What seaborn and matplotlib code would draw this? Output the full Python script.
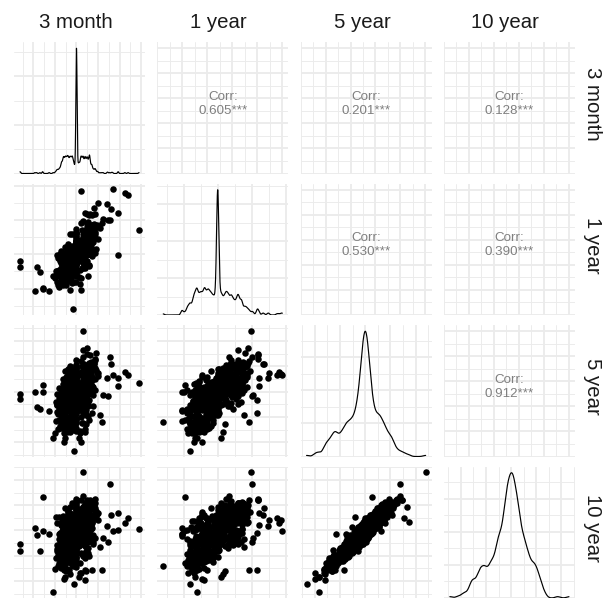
import matplotlib
matplotlib.use("Agg")
import matplotlib.pyplot as plt
from matplotlib.ticker import MultipleLocator, MaxNLocator, AutoMinorLocator
import pandas as pd
import seaborn as sns

labels = ["3 month", "1 year", "5 year", "10 year"]
# correlations shown in the upper panels, row by row
corr_values = [0.605, 0.201, 0.128, 0.530, 0.390, 0.912]

m3_out = [-2.62, -2.60, 2.90, 0.31, -1.57, 1.54, 0.23, 1.67, 2.24, 2.39,
          1.42, 1.62, 1.93, 0.62, 0.85, 1.46, 1.93, -1.85, -1.70, -1.93,
          -1.57, -1.27, -0.16, -1.00, -0.54, 0.15, 1.08, 0.28, -0.10, -1.08,
          0.38, -0.31, 0.46, 1.16, 0.70, 1.23, 0.60, -0.93, -0.40, -0.30,
          0.20, -0.50, 0.10, 0.50, 0.80, 1.00, 0.40, 0.90, 0.50, 0.30,
          -0.20, -0.50, 0.20, -0.60, 0.10, -0.20]
y1_out = [-0.20, -0.38, 0.72, 0.98, -0.97, 1.02, 1.87, 1.90, 1.80, 1.74,
          1.47, 1.32, 1.22, 1.17, 1.17, 1.02, -0.03, -0.38, -0.53, -1.06,
          -1.00, -1.06, -1.60, -0.68, -0.68, -0.87, 0.78, 0.32, -0.82, -0.62,
          -0.40, 0.15, 0.22, 0.92, 1.15, 1.05, 1.15, -0.50, -0.78, -1.04,
          -1.05, -0.90, -0.65, 1.18, 1.35, 1.50, 1.20, 0.80, 0.90, 0.60,
          -0.82, -0.72, -0.70, -0.45, 0.10, -0.60]
y5_out = [-0.10, -0.30, 0.35, 2.40, 0.27, 1.37, 0.70, 0.64, 0.79, 0.65,
          0.55, 1.08, 0.55, 1.45, 1.28, -0.19, 0.21, -0.59, -0.68, 0.00,
          0.00, -0.76, -1.19, -1.65, -1.85, -1.65, -0.92, 1.37, -2.33, -1.84,
          -1.61, -1.61, -1.30, -1.21, -0.85, -0.12, -0.32, -0.40, -0.53, -1.16,
          -0.72, 0.08, 0.35, 1.48, 1.11, 0.75, 0.24, 1.53, 1.73, 1.64,
          -1.29, -1.43, -1.99, -1.99, -1.85, -1.21]
y10_out = [-0.55, -0.80, 0.04, 2.30, 1.33, 1.85, 0.40, -0.02, 0.30, 0.50,
           0.19, 0.63, 0.71, 1.20, 1.25, -0.44, 0.00, -0.16, -0.80, 0.08,
           -0.04, -0.13, -1.41, -1.51, -1.83, -1.69, -0.64, 1.36, -2.13, -2.44,
           -1.97, -1.71, -1.60, -1.57, -1.57, -0.30, -0.10, 0.55, 0.13, -0.15,
           -0.20, 0.00, 0.10, 1.20, 0.90, 0.40, 0.20, 0.49, 0.32, 0.93,
           -0.77, -1.11, -1.68, -1.91, -1.84, -1.20]

# ---- central mass of observations ----
y5_core = [
    0.03, -0.12, 0.18, -0.04, 0.09, -0.21, 0.14, -0.08, 0.22, -0.16,
    -0.02, 0.11, -0.19, 0.06, -0.10, 0.24, -0.06, 0.15, -0.24, 0.01,
    0.07, -0.15, 0.20, -0.01, 0.12, -0.23, 0.04, -0.11, 0.17, -0.07,
    -0.18, 0.02, -0.09, 0.23, -0.13, 0.10, -0.03, 0.19, -0.20, 0.05,
    0.13, -0.05, 0.01, -0.22, 0.16, -0.14, 0.25, -0.01, 0.08, -0.17,
    -0.10, 0.05, -0.25, 0.18, -0.06, 0.12, -0.17, 0.00, 0.21, -0.03,
    0.00, 0.09, -0.13, 0.15, -0.20, 0.04, -0.08, 0.24, -0.15, 0.11,
    0.19, -0.04, 0.06, -0.18, 0.02, -0.11, 0.16, -0.24, 0.10, -0.01,
    -0.07, 0.14, -0.16, 0.08, -0.23, 0.20, -0.02, 0.03, -0.12, 0.17,
    0.05, -0.09, 0.22, -0.14, 0.01, -0.19, 0.12, -0.05, 0.07, -0.22,
    0.28, -0.31, 0.35, -0.38, 0.42, -0.45, 0.50, -0.52, 0.58, -0.61,
    0.65, -0.68, 0.30, -0.27, 0.37, -0.34, 0.47, -0.41, 0.55, -0.57,
    0.33, -0.29, 0.40, -0.43, 0.48, -0.49, 0.53, -0.55, 0.62, -0.66,
    0.69, -0.63, 0.26, -0.36, 0.44, -0.40, 0.51, -0.47, 0.60, -0.70,
    0.27, -0.25, 0.39, -0.32, 0.46, -0.53, 0.56, -0.59, 0.67, -0.44,
    0.31, -0.35, 0.43, -0.37, 0.54, -0.64, 0.59, -0.50, 0.36, -0.46,
    0.41, -0.42, 0.63, -0.60, 0.29, -0.28, 0.52, -0.67, 0.45, -0.33,
    0.72, -0.74, 0.78, -0.81, 0.85, -0.88, 0.92, -0.95, 1.00, -1.03,
    1.06, -1.09, 1.12, -1.15, 0.75, -0.78, 0.83, -0.86, 0.97, -0.99,
    -1.20, -1.25, -1.31, -1.36, -1.42, -1.48, 1.18, 1.24, -1.12, -1.18,
    0.71, -0.73, 0.89, -0.92, 1.04, -1.06, -1.22, -1.28, -1.38, -1.55,
    -0.76, -0.84, -0.97, -1.01, 0.79, 0.94, 1.08, -1.13, -1.33, -1.62,
    0.38, -0.39, 0.57, -0.58, 0.77, -0.79, 0.95, -0.98, 0.21, -0.26,
    0.16, -0.19, 0.47, -0.51, 0.66, -0.69, 0.87, -0.90, 1.02, -1.11,
    0.34, -0.36, 0.49, -0.56, 0.73, -0.75, 0.82, -0.96, 0.13, -0.10,
    0.24, -0.21, 0.61, -0.62, 0.80, -0.83, 1.05, -1.17, 0.44, -0.48,
    -0.06, 0.04, -0.30, 0.32, -0.52, 0.54, -0.71, 0.74, -0.91, 0.93,
    -1.40, -1.45, -1.52, -1.58, -1.35, 1.15, 1.21, 1.27, 0.98, 1.10,
    -1.26, -1.19, -1.08, -0.93, -0.81, 0.86, 1.01, 0.90, -1.46, -1.50,
    0.58, -0.46, 0.40, -0.30, 0.20, -0.12, 0.08, -0.05, 0.30, -0.40]
y10_core = [
    0.12, -0.02, 0.05, -0.19, 0.21, -0.11, 0.30, -0.22, 0.08, -0.28,
    0.09, 0.20, -0.08, -0.07, -0.25, 0.14, 0.04, 0.27, -0.15, -0.12,
    -0.06, -0.26, 0.28, 0.10, 0.03, -0.14, 0.16, 0.01, 0.11, -0.18,
    -0.09, -0.10, 0.02, 0.19, -0.31, 0.24, 0.07, 0.09, -0.27, 0.17,
    0.25, 0.06, -0.04, -0.30, 0.07, -0.04, 0.22, -0.14, 0.19, -0.08,
    -0.20, -0.05, -0.21, 0.26, 0.03, 0.01, -0.24, 0.14, 0.13, -0.07,
    0.02, 0.18, -0.03, 0.04, -0.13, -0.09, -0.16, 0.31, -0.29, 0.06,
    0.10, 0.08, 0.15, -0.06, -0.14, -0.19, 0.23, -0.18, -0.02, 0.13,
    0.05, 0.02, -0.17, 0.22, -0.20, 0.29, -0.10, -0.01, 0.00, 0.20,
    -0.08, -0.15, 0.17, -0.02, 0.06, -0.32, 0.05, 0.11, 0.23, -0.10,
    0.35, -0.20, 0.24, -0.45, 0.51, -0.36, 0.38, -0.60, 0.64, -0.48,
    0.55, -0.72, 0.18, -0.33, 0.44, -0.26, 0.36, -0.52, 0.41, -0.63,
    0.27, -0.39, 0.47, -0.32, 0.38, -0.57, 0.61, -0.45, 0.70, -0.56,
    0.75, -0.54, 0.30, -0.42, 0.33, -0.44, 0.56, -0.38, 0.52, -0.78,
    0.16, -0.29, 0.50, -0.24, 0.54, -0.49, 0.47, -0.68, 0.58, -0.34,
    0.42, -0.30, 0.35, -0.48, 0.62, -0.59, 0.49, -0.42, 0.28, -0.53,
    0.31, -0.50, 0.52, -0.66, 0.22, -0.19, 0.44, -0.61, 0.49, -0.40,
    0.65, -0.80, 0.84, -0.70, 0.76, -0.97, 0.88, -0.86, 1.06, -0.95,
    1.10, -1.00, 1.02, -1.21, 0.81, -0.66, 0.72, -0.94, 0.85, -1.05,
    -1.12, -1.33, -1.19, -1.42, -1.30, -1.39, 1.09, 1.16, -1.24, -1.06,
    0.80, -0.63, 0.95, -0.83, 0.93, -1.15, -1.05, -1.20, -1.47, -1.45,
    -0.86, -0.76, -1.08, -0.90, 0.70, 1.01, 0.98, -1.27, -1.25, -1.55,
    0.46, -0.27, 0.50, -0.69, 0.86, -0.71, 0.90, -1.09, 0.33, -0.15,
    0.04, -0.25, 0.37, -0.58, 0.72, -0.59, 0.78, -0.99, 0.92, -1.02,
    0.22, -0.46, 0.58, -0.44, 0.67, -0.83, 0.89, -0.88, 0.27, -0.21,
    0.12, -0.33, 0.68, -0.52, 0.75, -0.92, 1.12, -1.08, 0.40, -0.55,
    -0.15, 0.16, -0.23, 0.41, -0.43, 0.60, -0.81, 0.65, -0.82, 1.00,
    -1.28, -1.50, -1.36, -1.52, -1.10, 1.02, 1.21, 1.08, 0.80, 0.97,
    -1.02, -1.30, -1.18, -1.00, -0.72, 0.95, 0.87, 0.78, -1.58, -1.30,
    0.66, -0.39, 0.29, -0.37, 0.26, -0.05, 0.00, -0.10, 0.36, -0.47]
y1_core = [
    0.00, 0.00, 0.08, -0.02, 0.00, -0.14, 0.00, 0.01, 0.17, 0.00,
    0.03, 0.00, -0.09, 0.00, 0.00, 0.12, -0.01, 0.00, -0.18, 0.00,
    -0.05, 0.00, 0.00, 0.21, 0.00, -0.23, 0.00, 0.00, 0.00, 0.06,
    0.00, 0.14, 0.00, 0.00, -0.11, 0.00, -0.26, 0.28, 0.00, 0.00,
    0.00, 0.00, 0.00, -0.07, 0.33, 0.00, 0.00, 0.10, -0.31, 0.00,
    0.02, -0.12, 0.00, 0.00, 0.00, 0.24, 0.00, -0.35, 0.00, 0.00,
    0.00, 0.00, 0.16, -0.04, 0.00, 0.38, 0.00, 0.00, -0.20, 0.00,
    0.00, -0.30, 0.00, 0.00, 0.07, 0.00, 0.00, -0.15, 0.42, 0.00,
    0.00, 0.00, -0.40, 0.00, 0.00, 0.00, 0.19, 0.00, 0.00, -0.06,
    0.00, 0.09, 0.00, 0.00, -0.45, 0.00, 0.00, 0.00, 0.25, -0.38,
    0.10, -0.22, 0.30, 0.00, 0.18, -0.35, 0.44, -0.12, 0.00, -0.50,
    0.52, -0.28, -0.15, 0.12, 0.00, -0.48, 0.25, -0.30, 0.60, 0.00,
    0.00, 0.00, -0.20, -0.42, 0.35, 0.00, 0.00, -0.58, 0.28, -0.20,
    0.38, -0.62, 0.22, 0.00, -0.10, -0.25, 0.00, 0.15, 0.72, -0.40,
    0.46, -0.05, 0.00, -0.33, 0.55, -0.15, 0.00, 0.00, 0.00, -0.66,
    -0.28, 0.25, 0.62, -0.55, 0.00, -0.45, 0.32, 0.00, 0.00, 0.30,
    0.00, -0.18, 0.20, -0.35, 0.00, 0.00, 0.50, -0.70, -0.35, 0.05,
    0.55, -0.45, 0.25, -0.65, 0.70, -0.30, 0.45, -0.75, 0.80, -0.55,
    0.62, -0.85, 0.90, -0.40, 0.00, 0.00, 0.58, -0.20, 0.35, -0.68,
    -0.60, -0.82, -0.35, -0.70, -0.50, -0.90, 0.75, 0.40, -0.15, -0.48,
    0.10, -0.10, 0.00, 0.00, 0.25, -0.25, -0.30, -0.55, -0.75, -0.62,
    -0.80, 0.05, -0.55, -0.20, 0.65, 0.15, 0.50, -0.95, -0.40, -0.75,
    0.40, -0.50, -0.30, 0.30, 0.20, -0.60, 0.65, -0.35, 0.55, -0.45,
    -0.60, 0.60, 0.80, -0.80, -0.45, 0.45, 0.15, -0.10, 0.60, -0.35,
    0.70, -0.72, 0.05, 0.35, 0.85, -0.15, -0.20, -0.62, 0.48, -0.52,
    -0.32, 0.22, 0.45, -0.40, 0.95, -0.90, 0.70, -0.60, -0.55, 0.60,
    0.50, -0.50, -0.65, 0.65, 0.10, -0.05, -0.25, 0.30, -0.05, 0.20,
    -0.65, -0.40, -0.85, -0.55, -0.20, 0.65, 0.92, 0.60, 0.80, 0.35,
    -0.15, -0.72, -0.88, -0.30, -0.62, 0.25, 0.85, 0.05, -0.30, -0.70,
    -0.45, 0.40, -0.55, 0.55, -0.52, 0.58, -0.68, 0.70, -0.70, 0.68]
m3_core = [
    0.00, -0.06, 0.00, 0.00, 0.01, 0.00, 0.07, 0.00, 0.00, -0.11,
    0.00, 0.00, 0.00, 0.04, -0.03, 0.00, 0.00, 0.12, 0.00, 0.00,
    0.02, 0.00, -0.09, 0.15, 0.00, 0.00, -0.02, 0.00, 0.05, 0.00,
    0.00, 0.00, -0.14, 0.00, 0.00, 0.00, -0.17, 0.00, -0.04, 0.00,
    0.19, 0.00, 0.00, -0.08, 0.00, 0.00, 0.10, 0.00, 0.00, 0.00,
    0.00, 0.00, 0.23, 0.00, -0.01, 0.00, 0.00, -0.22, 0.00, 0.06,
    -0.05, 0.00, 0.00, 0.00, 0.00, 0.26, 0.00, 0.00, 0.00, -0.28,
    0.00, -0.18, 0.03, 0.00, 0.00, 0.08, 0.00, 0.00, 0.31, 0.00,
    0.00, 0.01, -0.25, 0.00, 0.00, -0.12, 0.00, 0.00, 0.14, 0.00,
    0.00, 0.00, 0.00, -0.02, -0.33, 0.00, 0.00, 0.00, 0.00, -0.20,
    0.00, -0.15, 0.21, 0.00, 0.00, -0.30, 0.36, 0.00, 0.00, -0.44,
    0.47, 0.00, 0.00, 0.09, 0.00, -0.38, 0.00, -0.20, 0.53, 0.00,
    -0.12, 0.24, 0.00, -0.27, 0.29, 0.00, -0.10, -0.52, 0.00, 0.00,
    0.00, -0.58, 0.18, 0.00, 0.00, 0.00, 0.41, 0.00, 0.64, -0.34,
    0.33, 0.00, -0.16, -0.45, 0.00, 0.16, 0.00, 0.00, 0.25, -0.60,
    -0.22, 0.20, 0.55, 0.00, -0.35, 0.00, 0.00, 0.30, 0.00, 0.12,
    0.00, 0.00, 0.00, -0.24, 0.00, -0.07, 0.28, -0.65, -0.28, 0.00,
    0.40, 0.00, 0.22, -0.55, 0.60, -0.18, 0.00, -0.66, 0.75, -0.42,
    0.00, -0.70, 0.80, -0.35, 0.00, 0.00, 0.48, 0.00, 0.30, -0.50,
    -0.45, 0.00, -0.30, -0.62, 0.00, -0.85, 0.65, 0.00, 0.00, -0.38,
    0.00, 0.10, 0.00, -0.15, 0.00, 0.00, 0.00, -0.40, -0.55, 0.00,
    -0.75, 0.00, -0.25, 0.20, 0.50, 0.00, 0.35, -0.80, -0.20, -0.60,
    0.62, -0.70, -0.48, 0.52, 0.66, -0.77, 0.85, -0.58, 0.70, -0.82,
    -0.55, 0.45, 0.72, -0.92, -0.38, 0.40, 0.90, -0.85, -0.30, 0.58,
    0.46, -0.62, -0.64, 0.78, 0.95, -0.48, -0.52, 0.55, 0.38, -0.46,
    0.58, -0.52, 0.98, -0.35, 0.54, -0.64, 0.62, -0.96, 0.00, 0.00,
    0.35, -0.40, -0.58, 0.60, -0.70, 0.72, 0.42, -0.38, -0.60, 0.62,
    -0.48, -0.70, -0.20, -0.42, -0.75, 0.58, 0.20, 0.85, 0.50, 0.72,
    0.30, -0.58, -0.68, 0.45, -0.88, 0.32, 0.60, -0.40, 0.40, -0.25,
    -0.30, 0.25, -0.40, 0.50, -0.45, 0.50, -0.55, 0.60, -0.62, 0.55]

# ---- further observations filling the dense centre of each cloud ----
y5_fill = [
    0.02, -0.05, 0.10, -0.14, 0.18, -0.22, 0.26, -0.30, 0.34, -0.38,
    -0.01, 0.06, -0.09, 0.13, -0.17, 0.21, -0.27, 0.31, -0.35, 0.39,
    0.04, -0.03, 0.08, -0.11, 0.15, -0.19, 0.23, -0.28, 0.32, -0.36,
    -0.04, 0.01, -0.07, 0.12, -0.16, 0.20, -0.24, 0.29, -0.33, 0.37,
    0.45, -0.48, 0.52, -0.56, 0.60, -0.64, 0.68, -0.72, 0.76, -0.80,
    -0.44, 0.47, -0.51, 0.55, -0.59, 0.63, -0.67, 0.71, -0.75, 0.79,
    0.09, -0.08, 0.17, -0.16, 0.25, -0.26, 0.05, -0.02, 0.14, -0.13,
    0.11, -0.10, 0.19, -0.20, 0.28, -0.29, 0.00, 0.03, -0.06, 0.07,
    -0.90, -1.00, -1.10, -0.85, -0.95, -1.05, 0.88, 0.96, 1.03, 0.84,
    -1.24, -1.32, -1.44, -1.54, -1.30, -1.15, -0.70, -0.80, 0.64, 0.70,
    0.18, -0.15, 0.35, -0.33, 0.50, -0.52, 0.06, -0.09, 0.22, -0.24,
    -0.18, 0.16, -0.37, 0.41, -0.57, 0.59, -0.77, 0.81, -0.12, 0.13,
    0.00, 0.02, -0.02, 0.04, -0.04, 0.06, -0.06, 0.08, -0.08, 0.10,
    -0.10, 0.12, -0.12, 0.01, -0.01, 0.03, -0.03, 0.05, -0.05, 0.07,
    -0.07, 0.09, -0.09, 0.11, -0.11, 0.13, -0.13, 0.00, 0.02, -0.02,
    0.04, -0.04, 0.06, -0.06, 0.15, -0.15, 0.00, 0.01, -0.01, 0.03]
y10_fill = [
    0.40, -0.42, -0.28, 0.25, 0.55, -0.58, -0.10, 0.12, 0.70, -0.72,
    -0.38, 0.45, 0.30, -0.26, -0.52, 0.60, 0.05, -0.05, -0.70, 0.78,
    -0.30, 0.35, 0.42, -0.45, -0.20, 0.18, 0.58, -0.62, 0.05, -0.02,
    0.32, -0.36, -0.40, 0.50, 0.22, -0.15, -0.55, 0.65, 0.02, 0.10,
    0.10, -0.85, 0.90, -0.20, 0.30, -1.00, 1.05, -0.35, 0.40, -1.15,
    -0.05, 0.88, -0.90, 0.15, -0.25, 1.00, -1.05, 0.32, -0.40, 1.12,
    0.48, -0.50, -0.18, 0.22, 0.62, -0.66, -0.35, 0.38, 0.52, -0.55,
    -0.25, 0.28, 0.60, -0.52, -0.08, 0.10, 0.48, -0.46, 0.36, -0.33,
    -1.20, -0.70, -1.30, -0.55, -1.22, -0.78, 0.55, 1.25, 0.70, 1.10,
    -0.95, -1.55, -1.18, -1.30, -1.60, -1.40, -0.35, -1.10, 0.95, 0.40,
    0.55, -0.48, 0.05, -0.05, 0.78, -0.80, -0.28, 0.30, -0.15, 0.12,
    -0.50, 0.45, -0.12, 0.70, -0.82, 0.30, -0.50, 1.08, 0.22, -0.25,
    0.05, -0.06, 0.10, -0.12, 0.00, 0.15, -0.18, 0.02, -0.03, 0.20,
    -0.22, 0.08, -0.05, -0.10, 0.12, 0.25, -0.26, 0.18, -0.15, 0.00,
    0.03, -0.08, 0.06, 0.14, -0.20, 0.30, -0.02, -0.16, 0.22, -0.24,
    -0.04, 0.07, 0.28, -0.30, 0.10, -0.10, 0.16, -0.12, 0.04, -0.07]
y1_fill = [
    0.35, -0.38, 0.48, -0.52, 0.20, -0.25, 0.58, -0.60, 0.15, -0.10,
    -0.45, 0.42, -0.28, 0.30, -0.62, 0.65, -0.05, 0.08, -0.40, 0.45,
    0.00, 0.00, 0.62, -0.64, 0.40, -0.42, -0.18, 0.22, 0.70, -0.72,
    0.25, -0.22, 0.12, -0.15, -0.35, 0.38, -0.50, 0.52, -0.25, 0.28,
    0.30, -0.55, 0.65, -0.10, 0.00, -0.70, 0.40, -0.25, 0.75, -0.62,
    -0.20, 0.55, -0.65, 0.10, -0.40, 0.70, 0.00, 0.25, -0.80, 0.35,
    -0.55, 0.50, 0.10, -0.08, 0.32, -0.30, 0.78, -0.75, -0.12, 0.14,
    0.45, -0.48, -0.40, 0.42, 0.68, -0.66, 0.30, -0.28, 0.55, -0.58,
    -0.35, -0.65, -0.50, -0.25, -0.80, -0.45, 0.50, 0.25, 0.70, 0.60,
    -0.40, -0.60, -0.25, -0.45, -0.75, -0.85, -0.90, -0.15, 0.85, 0.10,
    0.85, -0.82, 0.20, -0.20, 0.48, -0.50, 0.05, -0.02, 0.62, -0.60,
    -0.68, 0.72, -0.10, 0.18, -0.25, 0.85, -0.62, 0.10, 0.40, -0.38,
    0.30, -0.32, 0.00, 0.00, 0.55, -0.50, 0.00, 0.01, 0.60, -0.58,
    0.00, -0.01, 0.38, -0.36, 0.00, 0.00, 0.25, -0.28, 0.00, 0.02,
    0.42, -0.46, 0.00, 0.00, 0.35, -0.30, 0.00, -0.02, 0.28, -0.25,
    0.00, 0.00, 0.58, -0.60, 0.00, 0.01, 0.40, -0.38, 0.00, 0.00]
m3_fill = [
    0.28, -0.30, 0.45, -0.42, 0.10, -0.14, 0.50, -0.48, 0.22, -0.18,
    -0.36, 0.32, -0.20, 0.24, -0.55, 0.52, -0.62, 0.58, -0.32, 0.35,
    0.42, -0.44, 0.60, -0.58, 0.00, 0.00, -0.35, 0.38, 0.65, -0.68,
    0.00, 0.00, 0.35, -0.32, -0.42, 0.44, 0.00, 0.00, -0.52, 0.48,
    0.55, -0.25, 0.00, -0.40, 0.32, -0.52, 0.58, -0.15, 0.00, -0.72,
    -0.62, 0.40, -0.45, 0.00, 0.28, 0.62, 0.00, -0.22, -0.50, 0.00,
    -0.48, 0.40, 0.75, -0.70, 0.20, -0.26, 0.68, -0.65, -0.80, 0.78,
    0.60, -0.65, -0.22, 0.20, 0.36, -0.40, 0.15, -0.12, 0.50, -0.45,
    -0.25, -0.45, 0.00, 0.30, -0.55, -0.30, 0.45, 0.00, 0.25, -0.20,
    0.25, -0.35, -0.60, 0.15, -0.50, -0.70, -0.80, 0.40, 0.55, 0.65,
    0.70, -0.75, -0.50, 0.48, 0.85, -0.88, 0.88, -0.90, 0.00, 0.00,
    -0.60, 0.62, 0.20, -0.30, -0.68, 0.70, -0.35, 0.40, 0.28, -0.25,
    0.20, -0.25, 0.32, -0.35, 0.45, -0.40, 0.50, -0.55, 0.38, -0.30,
    0.60, -0.58, 0.25, -0.20, 0.35, -0.42, 0.62, -0.65, 0.48, -0.52,
    0.30, -0.28, 0.55, -0.50, 0.15, -0.18, 0.40, -0.45, 0.68, -0.70,
    0.22, -0.26, 0.42, -0.38, 0.72, -0.75, 0.12, -0.14, 0.58, -0.60]

df = pd.DataFrame({
    labels[0]: m3_out + m3_core + m3_fill,
    labels[1]: y1_out + y1_core + y1_fill,
    labels[2]: y5_out + y5_core + y5_fill,
    labels[3]: y10_out + y10_core + y10_fill,
})

# kernel bandwidth factors for the diagonal density curves
bw_factor = {labels[0]: 0.05, labels[1]: 0.065, labels[2]: 0.14, labels[3]: 0.14}

sns.set_style("white")
plt.rcParams["font.family"] = ["Liberation Sans", "DejaVu Sans"]

W, H = 606, 598
fig = plt.figure(figsize=(W / 100, H / 100), dpi=100)
fig.patch.set_facecolor("white")
col_left = [14, 157.3, 300.6, 443.9]
row_top = [42, 183.5, 325, 466.5]
pw, ph = 131, 131.5
GRID = "#EBEBEB"


def style(ax):
    for s in ax.spines.values():
        s.set_visible(False)
    ax.tick_params(which="both", length=0, labelbottom=False, labelleft=False)
    ax.set_xlabel("")
    ax.set_ylabel("")
    ax.grid(which="major", color=GRID, lw=1.3)
    ax.grid(which="minor", color=GRID, lw=0.65)
    ax.set_axisbelow(True)


lims = {}
for v in labels:
    lo, hi = df[v].min(), df[v].max()
    r = hi - lo
    lims[v] = (lo - 0.05 * r, hi + 0.05 * r)

k = 0
for i, yv in enumerate(labels):
    for j, xv in enumerate(labels):
        ax = fig.add_axes([col_left[j] / W, 1 - (row_top[i] + ph) / H, pw / W, ph / H])
        ax.set_facecolor("white")
        if i > j:
            sns.scatterplot(data=df, x=xv, y=yv, ax=ax, color="black", s=22,
                            linewidth=0, legend=False)
            ax.set_xlim(lims[xv])
            ax.set_ylim(lims[yv])
            ax.xaxis.set_major_locator(MultipleLocator(1))
            ax.xaxis.set_minor_locator(MultipleLocator(0.5))
            ax.yaxis.set_major_locator(MultipleLocator(1))
            ax.yaxis.set_minor_locator(MultipleLocator(0.5))
        elif i == j:
            sns.kdeplot(data=df, x=xv, ax=ax, color="black", lw=0.85,
                        bw_method=bw_factor[xv], cut=0, gridsize=3000)
            ax.set_xlim(lims[xv])
            ax.xaxis.set_major_locator(MultipleLocator(1))
            ax.xaxis.set_minor_locator(MultipleLocator(0.5))
            ax.yaxis.set_major_locator(MaxNLocator(4))
            ax.yaxis.set_minor_locator(AutoMinorLocator(2))
        else:
            ax.set_xlim(0, 10.5)
            ax.set_ylim(0, 10.5)
            ax.xaxis.set_major_locator(MultipleLocator(2))
            ax.xaxis.set_minor_locator(MultipleLocator(1))
            ax.yaxis.set_major_locator(MultipleLocator(2))
            ax.yaxis.set_minor_locator(MultipleLocator(1))
            ax.text(0.5, 0.585, "Corr:", transform=ax.transAxes, ha="center",
                    va="center", fontsize=9.6, color="#7F7F7F")
            ax.text(0.5, 0.478, f"{corr_values[k]:.3f}***", transform=ax.transAxes,
                    ha="center", va="center", fontsize=9.6, color="#7F7F7F")
            k += 1
        style(ax)

for j, lab in enumerate(labels):
    cx = (col_left[j] + pw / 2 - 4) / W
    fig.text(cx, 1 - 27.5 / H, lab, ha="center", va="baseline", fontsize=14.7, color="#1A1A1A")
for i, lab in enumerate(labels):
    cy = 1 - (row_top[i] + ph / 2 - 4) / H
    fig.text(587 / W, cy, lab, ha="center", va="baseline", rotation=270,
             rotation_mode="anchor", fontsize=14.7, color="#1A1A1A")

fig.savefig("out.png", dpi=100, facecolor="white")
